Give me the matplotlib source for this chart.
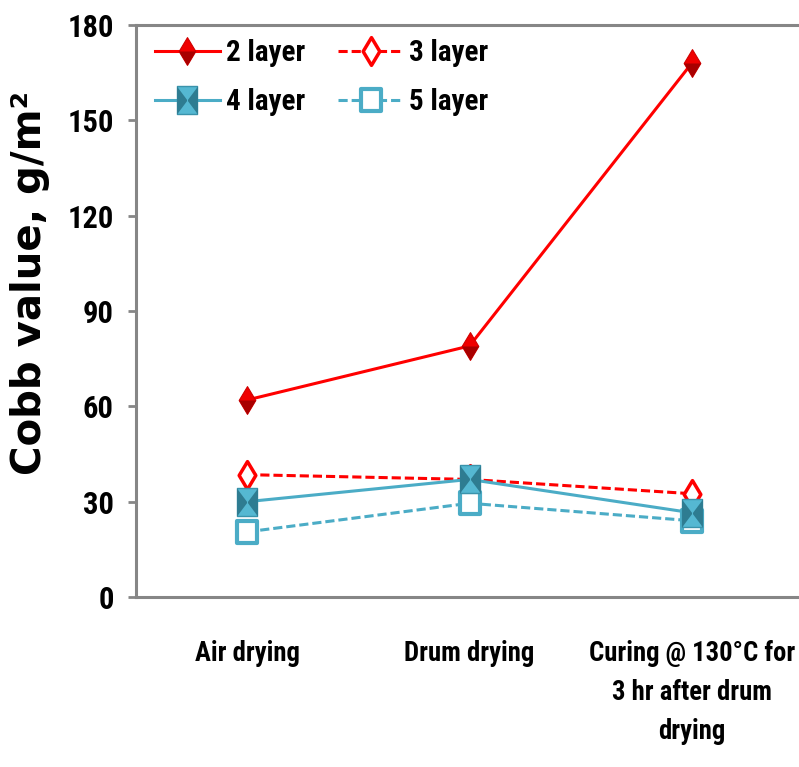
import matplotlib
matplotlib.use("Agg")
import matplotlib.pyplot as plt
from matplotlib.path import Path
from matplotlib.legend_handler import HandlerTuple
from matplotlib import font_manager
from matplotlib.font_manager import FontProperties

# ---- data ----
categories = ["Air drying", "Drum drying", "Curing @ 130°C for\n3 hr after drum\ndrying"]
layer2 = [62, 79, 168]
layer3 = [38.5, 37, 32.5]
layer4 = [30, 37, 26.5]
layer5 = [20.5, 29.5, 24]
yticks = [0, 30, 60, 90, 120, 150, 180]


# ---- fonts: prefer a narrow bold sans face ----
def find_narrow_bold():
    files = [f.fname for f in font_manager.fontManager.ttflist]
    prefs = ["LiberationSansNarrow-Bold.", "NotoSans-ExtraCondensedBold.",
             "NotoSans-CondensedBold.", "RobotoCondensed-Bold.",
             "Roboto_Condensed-Bold.", "OpenSans-CondensedBold.",
             "OpenSans_Condensed-Bold.", "DejaVuSansCondensed-Bold."]
    for p in prefs:
        for fn in files:
            if p.lower() in fn.lower().replace("\\", "/").split("/")[-1]:
                return fn
    return None


nb = find_narrow_bold()


def fp(size):
    if nb:
        return FontProperties(fname=nb, size=size)
    return FontProperties(family="Liberation Sans", weight="bold", size=size)


RED = "#FF0000"
BLUE = "#4BACC6"
GRAY = "#868686"

fig = plt.figure(figsize=(7.99, 7.67), dpi=100)
W, H = 799, 767
left, right, top, bottom = 136, 803, 25, 597
ax = fig.add_axes([left / W, 1 - bottom / H, (right - left) / W, (bottom - top) / H])
renderer = fig.canvas.get_renderer()


def fitted_size(text, width_px, ref_size=20.0):
    """Font size at which `text` spans width_px pixels in the narrow face."""
    t = fig.text(0, 0, text, fontproperties=fp(ref_size))
    w = t.get_window_extent(renderer).width
    t.remove()
    return ref_size * width_px / w


x = list(range(len(categories)))

C = Path.CLOSEPOLY
M = Path.MOVETO
L = Path.LINETO
# marker shapes (each normalised so the farthest vertex sits at 1)
diamond = Path([(-0.6, 0), (0, 1), (0.6, 0), (0, -1), (-0.6, 0)], [M, L, L, L, C])
diamond_low = Path([(-0.6, 0), (0.6, 0), (0, -1), (-0.6, 0)], [M, L, L, C])
tall_rect = Path([(-0.75, -1), (0.75, -1), (0.75, 1), (-0.75, 1), (-0.75, -1)], [M, L, L, L, C])
box5 = Path([(-0.87, -1), (0.87, -1), (0.87, 1), (-0.87, 1), (-0.87, -1)], [M, L, L, L, C])
# darker side facets of the pyramid-style square
bowtie = Path([(-0.75, -1), (0, 0), (-0.75, 1), (-0.75, -1),
               (0.75, -1), (0, 0), (0.75, 1), (0.75, -1)],
              [M, L, L, C, M, L, L, C])

lw = 2.2
dash = (0, (3, 1.3))

l2, = ax.plot(x, layer2, color=RED, lw=lw, marker=diamond, ms=20,
              mfc="#F00000", mec="#D00000", mew=0.8, zorder=3)
l2s, = ax.plot(x, layer2, ls="none", marker=diamond_low, ms=20,
               mfc="#A80000", mec="#A80000", mew=0, zorder=3.1)
l3, = ax.plot(x, layer3, color=RED, lw=lw, ls=dash, marker=diamond, ms=20,
              mfc="white", mec=RED, mew=2.5, zorder=3)
l5, = ax.plot(x, layer5, color=BLUE, lw=lw, ls=dash, marker=box5, ms=16.5,
              mfc="white", mec=BLUE, mew=3, zorder=4)
l4, = ax.plot(x, layer4, color=BLUE, lw=lw, marker=tall_rect, ms=20,
              mfc="#55B8D2", mec="#3A93AB", mew=1, zorder=5)
l4s, = ax.plot(x, layer4, ls="none", marker=bowtie, ms=20,
               mfc="#2E7C91", mec="#2E7C91", mew=0, zorder=5.1)

ax.set_xlim(-0.5, 2.5)
ax.set_ylim(0, 180)
ax.set_yticks(yticks)
ax.set_xticks(x)

# category labels: as large as the narrow space under the last category allows
xs = min(fitted_size("Air drying", 114), fitted_size("Curing @ 130°C for", 206))
xs_px = xs * 100 / 72
ax.set_xticklabels(categories, linespacing=42 / xs_px)
for t in ax.get_xticklabels():
    t.set_fontproperties(fp(xs))
for t in ax.get_yticklabels():
    t.set_fontproperties(fp(22))

ax.tick_params(axis="x", length=0, pad=31)
ax.tick_params(axis="y", length=6, width=2, color=GRAY, pad=10)

for s in ["left", "bottom", "top"]:
    ax.spines[s].set_color(GRAY)
    ax.spines[s].set_linewidth(2.2)
ax.spines["right"].set_visible(False)

fig.text(30 / W, 1 - 283 / H, "Cobb value, g/m²", rotation=90,
         ha="center", va="center", fontsize=29, fontweight="bold",
         family="DejaVu Sans")

# legend filled column by column: 2 & 4 in the first column, 3 & 5 in the second
ls_ = min(21.0, fitted_size("2 layer", 90))
leg = ax.legend([(l2, l2s), (l4, l4s), (l3,), (l5,)],
                ["2 layer", "4 layer", "3 layer", "5 layer"],
                handler_map={tuple: HandlerTuple(ndivide=1, pad=0)},
                loc="upper left", bbox_to_anchor=(0.028, 0.975), ncol=2,
                frameon=False, borderpad=0, borderaxespad=0,
                handlelength=47 / ls_, handletextpad=4 / ls_,
                columnspacing=24 / ls_, labelspacing=0.7, numpoints=1,
                prop=fp(ls_))

fig.savefig("out.png", dpi=100)
